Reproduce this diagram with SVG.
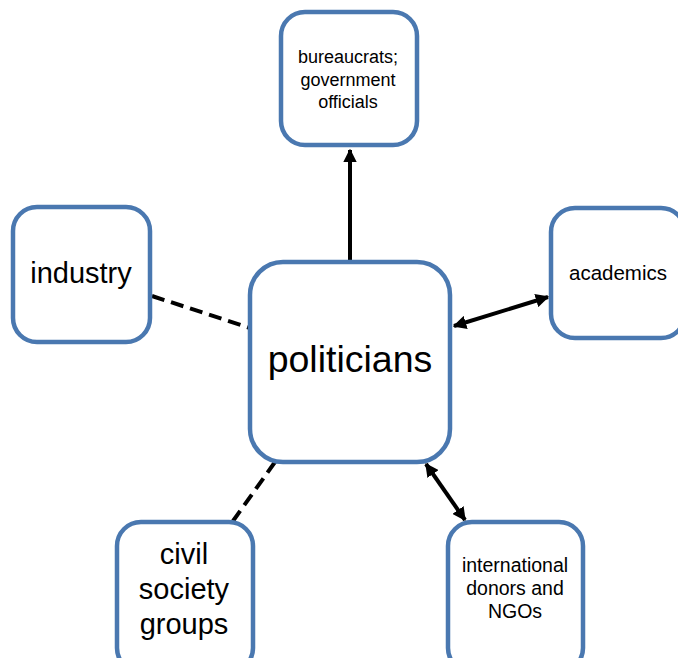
<svg xmlns="http://www.w3.org/2000/svg" width="678" height="658" viewBox="0 0 678 658">
<style>
.box{fill:#fff;stroke:#4a78b0;stroke-width:4.5}
.t{font-family:"Liberation Sans",Arial,sans-serif;fill:#000;text-anchor:middle}
.c{stroke:#000;stroke-width:4;fill:none}
.d{stroke-dasharray:13 7}
</style>
<defs>
<marker id="ah" viewBox="0 0 10 10" refX="9" refY="5" markerWidth="3.4" markerHeight="3.4" orient="auto-start-reverse" markerUnits="strokeWidth">
<path d="M0,0 L10,5 L0,10 Z" fill="#000"/>
</marker>
</defs>
<g id="connectors">
<line class="c" x1="350" y1="260" x2="350" y2="150" marker-end="url(#ah)"/>
<line class="c" x1="454" y1="326" x2="548" y2="297" marker-start="url(#ah)" marker-end="url(#ah)"/>
<line class="c d" x1="152" y1="296" x2="250" y2="328"/>
<line class="c d" x1="275" y1="462" x2="233" y2="521"/>
<line class="c" x1="426" y1="464" x2="465" y2="520" marker-start="url(#ah)" marker-end="url(#ah)"/>
</g>
<g id="bureaucrats">
<rect class="box" x="281" y="12" width="136" height="133" rx="24"/>
<text class="t" font-size="18"><tspan x="348" y="63">bureaucrats;</tspan><tspan x="348" y="85.5">government</tspan><tspan x="348" y="108">officials</tspan></text>
</g>
<g id="academics">
<rect class="box" x="551" y="208" width="134" height="130" rx="24"/>
<text class="t" font-size="20.5" x="618" y="280">academics</text>
</g>
<g id="industry">
<rect class="box" x="13" y="207" width="137" height="135" rx="24"/>
<text class="t" font-size="29" x="81" y="283">industry</text>
</g>
<g id="politicians">
<rect class="box" x="250" y="262" width="200" height="200" rx="33"/>
<text class="t" font-size="37.5" x="350" y="372">politicians</text>
</g>
<g id="civil">
<rect class="box" x="117" y="522" width="136" height="150" rx="24"/>
<text class="t" font-size="29"><tspan x="184" y="564">civil</tspan><tspan x="184" y="599">society</tspan><tspan x="184" y="634">groups</tspan></text>
</g>
<g id="donors">
<rect class="box" x="448" y="522" width="135" height="150" rx="24"/>
<text class="t" font-size="19.5"><tspan x="515" y="572">international</tspan><tspan x="515" y="595">donors and</tspan><tspan x="515" y="618">NGOs</tspan></text>
</g>
</svg>
